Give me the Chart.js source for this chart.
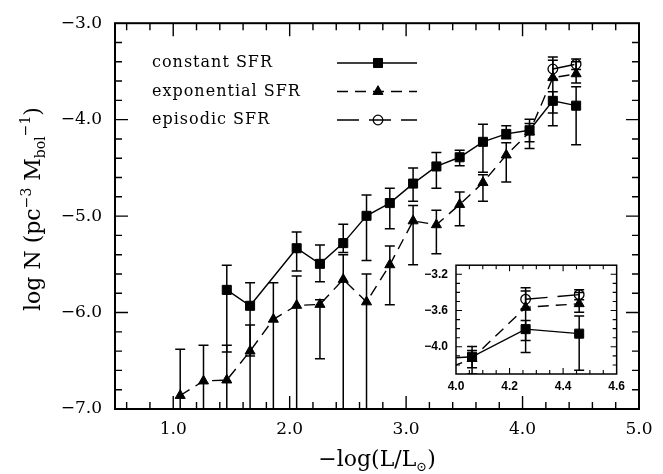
<!DOCTYPE html>
<html>
<head>
<meta charset="utf-8">
<script src="https://cdn.jsdelivr.net/npm/chart.js@4.4.0/dist/chart.umd.min.js"></script>
<style>
  html, body { margin: 0; padding: 0; background: #fff; }
  #wrap { position: relative; width: 663px; height: 474px; }
  #mainChart { position: absolute; left: 0; top: 0; }
  #insetChart { position: absolute; left: 416px; top: 250px; }
</style>
</head>
<body>
<div id="wrap">
  <canvas id="mainChart" width="663" height="474"></canvas>
  <canvas id="insetChart" width="214" height="146"></canvas>
</div>
<script>
// series names
const seriesNames = ['constant SFR', 'exponential SFR', 'episodic SFR'];

// constant SFR (squares)
const constX  = [1.46, 1.66, 2.06, 2.26, 2.46, 2.66, 2.86, 3.06, 3.26, 3.46, 3.66, 3.86, 4.06, 4.26, 4.46];
const constY  = [-5.765, -5.93, -5.333, -5.495, -5.28, -4.997, -4.865, -4.663, -4.485, -4.39, -4.23, -4.148, -4.11, -3.805, -3.855];
const constHi = [-5.51, -5.69, -5.165, -5.30, -5.084, -4.78, -4.71, -4.50, -4.34, -4.316, -4.047, -4.064, -3.997, -3.71, -3.66];
const constLo = [-6.41, -6.45, -5.57, -5.68, -5.377, -5.46, -5.13, -4.845, -4.71, -4.478, -4.545, -4.199, -4.23, -4.064, -4.26];

// exponential SFR (triangles); -7.6 = lower error runs off the bottom
const expX  = [1.06, 1.26, 1.46, 1.66, 1.86, 2.06, 2.26, 2.46, 2.66, 2.86, 3.06, 3.26, 3.46, 3.66, 3.86, 4.06, 4.26, 4.46];
const expY  = [-6.86, -6.71, -6.70, -6.40, -6.07, -5.926, -5.916, -5.657, -5.89, -5.505, -5.05, -5.09, -4.88, -4.653, -4.367, -4.13, -3.565, -3.525];
const expHi = [-6.38, -6.34, -6.34, -6.13, -5.69, -5.62, -5.866, -5.40, -5.60, -5.31, -4.889, -4.94, -4.75, -4.57, -4.24, -4.04, -3.385, -3.40];
const expLo = [-7.6, -7.6, -7.6, -7.6, -7.6, -7.6, -6.48, -7.6, -7.6, -5.92, -5.505, -5.39, -5.10, -4.845, -4.646, -4.30, -3.93, -3.62];

// episodic SFR (open circles)
const epiX  = [4.26, 4.46];
const epiY  = [-3.475, -3.425];
const epiHi = [-3.35, -3.37];
const epiLo = [-3.58, -3.48];

// tick labels
const xMajor = [1, 2, 3, 4, 5];
const yMajor = [-7, -6, -5, -4, -3];
const insetXMajor = [4.0, 4.2, 4.4, 4.6];
const insetYMajor = [-4.0, -3.6, -3.2];

// axis titles (rich text pieces)
const xTitleParts = [{ t: '\u2212log(L/L', s: 22 }, { t: '\u2299', s: 13, dy: 5 }, { t: ')', s: 22 }];
const yTitleParts = [{ t: 'log N (pc', s: 22 }, { t: '\u22123', s: 14, dy: -9 }, { t: ' M', s: 22 },
                     { t: 'bol', s: 14, dy: 5 }, { t: '\u22121', s: 14, dy: -10 }, { t: ')', s: 22 }];

const SERIF = "'DejaVu Serif', serif";
const fmt = v => (v < 0 ? '\u2212' : '') + Math.abs(v).toFixed(1);

function points(xs, ys, hi, lo) {
  return xs.map((x, i) => ({ x: x, y: ys[i], hi: hi[i], lo: lo[i] }));
}

function makeDatasets() {
  return [
    { label: seriesNames[0], data: points(constX, constY, constHi, constLo), showLine: true,
      borderColor: '#000', borderWidth: 1.4, borderDash: [],
      pointStyle: 'rect', pointRadius: 6.4, pointBackgroundColor: '#000', pointBorderColor: '#000', pointBorderWidth: 1 },
    { label: seriesNames[1], data: points(expX, expY, expHi, expLo), showLine: true,
      borderColor: '#000', borderWidth: 1.4, borderDash: [11, 7],
      pointStyle: 'triangle', pointRadius: 5.8, pointBackgroundColor: '#000', pointBorderColor: '#000', pointBorderWidth: 1 },
    { label: seriesNames[2], data: points(epiX, epiY, epiHi, epiLo), showLine: true,
      borderColor: '#000', borderWidth: 1.4, borderDash: [22, 10],
      pointStyle: 'circle', pointRadius: 4.8, pointBackgroundColor: 'rgba(0,0,0,0)', pointBorderColor: '#000', pointBorderWidth: 1.3 }
  ];
}

function marker(ctx, style, r, x, y) {
  ctx.beginPath();
  if (style === 'rect') {
    const s = Math.SQRT1_2 * r;
    ctx.rect(x - s, y - s, 2 * s, 2 * s);
  } else if (style === 'triangle') {
    ctx.moveTo(x, y - r);
    ctx.lineTo(x + 0.866 * r, y + 0.5 * r);
    ctx.lineTo(x - 0.866 * r, y + 0.5 * r);
    ctx.closePath();
  } else {
    ctx.arc(x, y, r, 0, Math.PI * 2);
  }
  ctx.fill();
  ctx.stroke();
}

function drawRich(ctx, parts) {
  let w = 0;
  parts.forEach(p => { ctx.font = p.s + 'px ' + SERIF; w += ctx.measureText(p.t).width; });
  let x = -w / 2;
  parts.forEach(p => {
    ctx.font = p.s + 'px ' + SERIF;
    ctx.fillText(p.t, x, p.dy || 0);
    x += ctx.measureText(p.t).width;
  });
}

function ticksAlong(min, max, step, majors) {
  const out = [];
  const n0 = Math.ceil(min / step - 1e-6), n1 = Math.floor(max / step + 1e-6);
  for (let n = n0; n <= n1; n++) {
    const v = n * step;
    if (Math.abs(v - min) < 1e-6 || Math.abs(v - max) < 1e-6) continue;
    out.push({ v: v, major: majors.some(m => Math.abs(m - v) < 1e-6) });
  }
  return out;
}

const decor = {
  id: 'decor',
  beforeDraw(chart) {
    const { ctx, chartArea: a } = chart;
    ctx.save();
    ctx.fillStyle = '#fff';
    ctx.fillRect(a.left, a.top, a.right - a.left, a.bottom - a.top);
    ctx.restore();
  },
  beforeDatasetsDraw(chart, args, o) {
    const { ctx, chartArea: a, scales: { x, y } } = chart;
    ctx.save();
    ctx.beginPath();
    ctx.rect(a.left, a.top, a.right - a.left, a.bottom - a.top);
    ctx.clip();
    ctx.strokeStyle = '#000';
    ctx.lineWidth = 1.5;
    chart.data.datasets.forEach(ds => {
      ds.data.forEach(p => {
        const px = x.getPixelForValue(p.x);
        const pt = y.getPixelForValue(p.hi), pb = y.getPixelForValue(p.lo);
        ctx.beginPath();
        ctx.moveTo(px, pt); ctx.lineTo(px, pb);
        ctx.moveTo(px - o.cap, pt); ctx.lineTo(px + o.cap, pt);
        ctx.moveTo(px - o.cap, pb); ctx.lineTo(px + o.cap, pb);
        ctx.stroke();
      });
    });
    ctx.restore();
  },
  afterDatasetsDraw(chart, args, o) {
    const { ctx, chartArea: a, scales: { x, y } } = chart;
    ctx.save();
    ctx.strokeStyle = '#000';
    ctx.lineWidth = o.tickWidth;
    ctx.beginPath();
    ticksAlong(x.min, x.max, o.xStep, o.xMajor).forEach(t => {
      const px = x.getPixelForValue(t.v), len = t.major ? o.majorLen : o.minorLen;
      ctx.moveTo(px, a.bottom); ctx.lineTo(px, a.bottom - len);
      ctx.moveTo(px, a.top); ctx.lineTo(px, a.top + len);
    });
    ticksAlong(y.min, y.max, o.yStep, o.yMajor).forEach(t => {
      const py = y.getPixelForValue(t.v), len = t.major ? o.majorLen : o.minorLen;
      ctx.moveTo(a.left, py); ctx.lineTo(a.left + len, py);
      ctx.moveTo(a.right, py); ctx.lineTo(a.right - len, py);
    });
    ctx.stroke();
    ctx.lineWidth = o.frameWidth;
    ctx.strokeRect(a.left, a.top, a.right - a.left, a.bottom - a.top);
    ctx.restore();
  },
  afterDraw(chart, args, o) {
    const ctx = chart.ctx;
    if (o.legend) {
      const L = o.legend;
      chart.data.datasets.forEach((ds, i) => {
        const yy = L.y0 + i * L.dy;
        ctx.save();
        ctx.fillStyle = '#000';
        ctx.font = L.size + 'px ' + SERIF;
        ctx.textBaseline = 'middle';
        ctx.letterSpacing = L.spacing;
        ctx.fillText(ds.label, L.textX, yy);
        ctx.restore();
        ctx.save();
        ctx.strokeStyle = '#000';
        ctx.lineWidth = ds.borderWidth;
        ctx.setLineDash(ds.borderDash);
        ctx.beginPath(); ctx.moveTo(L.lineX0, yy); ctx.lineTo(L.lineX1, yy); ctx.stroke();
        ctx.setLineDash([]);
        ctx.fillStyle = ds.pointBackgroundColor;
        ctx.lineWidth = ds.pointBorderWidth;
        marker(ctx, ds.pointStyle, ds.pointRadius, L.markX, yy);
        ctx.restore();
      });
    }
    if (o.titles) {
      const T = o.titles;
      ctx.save();
      ctx.fillStyle = '#000';
      ctx.textBaseline = 'alphabetic';
      ctx.translate(T.xTitleX, T.xTitleY);
      drawRich(ctx, xTitleParts);
      ctx.restore();
      ctx.save();
      ctx.fillStyle = '#000';
      ctx.textBaseline = 'alphabetic';
      ctx.translate(T.yTitleX, T.yTitleY);
      ctx.rotate(-Math.PI / 2);
      drawRich(ctx, yTitleParts);
      ctx.restore();
    }
  }
};

function axis(min, max, majors, fitProp, fitVal, pad, font) {
  return {
    type: 'linear', min: min, max: max,
    afterBuildTicks: s => { s.ticks = majors.map(v => ({ value: v })); },
    afterFit: s => { s[fitProp] = fitVal; },
    grid: { display: false, drawTicks: false },
    border: { display: false },
    ticks: { color: '#000', font: font, padding: pad, maxRotation: 0, autoSkip: false, callback: fmt }
  };
}

const mainChart = new Chart(document.getElementById('mainChart'), {
  type: 'scatter',
  data: { datasets: makeDatasets() },
  plugins: [decor],
  options: {
    responsive: false,
    animation: false,
    layout: { padding: { top: 13, right: 24, left: 0, bottom: 0 } },
    scales: {
      x: axis(0.5, 5.0, xMajor, 'height', 65, 10, { family: SERIF, size: 17 }),
      y: axis(-7.0, -3.0, yMajor, 'width', 115, 13, { family: SERIF, size: 17 })
    },
    plugins: {
      legend: { display: false },
      tooltip: { enabled: false },
      decor: {
        cap: 5, tickWidth: 1.4, frameWidth: 2, majorLen: 13, minorLen: 7,
        xStep: 0.2, yStep: 0.2, xMajor: xMajor, yMajor: yMajor,
        legend: { textX: 152, y0: 63, dy: 28.5, size: 16, spacing: '1px', lineX0: 337, lineX1: 417, markX: 378 },
        titles: { xTitleX: 377, xTitleY: 466, yTitleX: 40, yTitleY: 209 }
      }
    }
  }
});

const insetChart = new Chart(document.getElementById('insetChart'), {
  type: 'scatter',
  data: { datasets: makeDatasets() },
  plugins: [decor],
  options: {
    responsive: false,
    animation: false,
    layout: { padding: { top: 5, right: 12, left: 0, bottom: 0 } },
    scales: {
      x: axis(4.0, 4.6, insetXMajor, 'height', 22, 5, { family: "'Liberation Sans', sans-serif", size: 12, weight: 'bold' }),
      y: axis(-4.3, -3.1, insetYMajor, 'width', 40, 8, { family: "'Liberation Sans', sans-serif", size: 12, weight: 'bold' })
    },
    plugins: {
      legend: { display: false },
      tooltip: { enabled: false },
      decor: {
        cap: 5, tickWidth: 1.1, frameWidth: 1.5, majorLen: 6, minorLen: 4,
        xStep: 0.05, yStep: 0.1, xMajor: insetXMajor, yMajor: insetYMajor
      }
    }
  }
});
</script>
</body>
</html>
